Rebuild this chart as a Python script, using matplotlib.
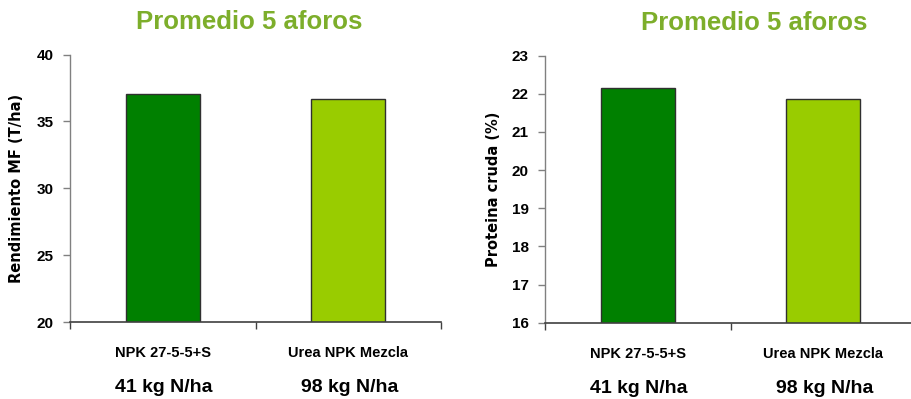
import matplotlib
matplotlib.use("Agg")
import matplotlib.pyplot as plt

# Data
treatments = ["NPK 27-5-5+S", "Urea NPK Mezcla"]
n_doses = ["41 kg N/ha", "98 kg N/ha"]
yield_mf = [37.02, 36.65]          # Rendimiento MF (T/ha)
protein = [22.16, 21.86]           # Proteina cruda (%)
bar_colors = ["#008000", "#99CC00"]
title_text = "Promedio 5 aforos"

W, H = 911, 399
fig = plt.figure(figsize=(W / 100, H / 100), dpi=100)
fig.patch.set_facecolor("white")

TITLE_COLOR = "#7DAE2B"
FONT = "Liberation Sans"


def px_axes(left, top, right, bottom):
    return fig.add_axes([left / W, 1 - bottom / H, (right - left) / W, (bottom - top) / H])


def draw_panel(ax, values, ylim, yticks, ylabel, label_x):
    x = list(range(len(values)))
    ax.bar(x, values, width=0.4, color=bar_colors, edgecolor="#303030",
           linewidth=1.0, zorder=2)
    ax.set_xlim(-0.5, len(values) - 0.5)
    ax.set_ylim(*ylim)
    ax.set_yticks(yticks)
    ax.set_yticklabels([str(t) for t in yticks], fontfamily=FONT,
                       fontweight="bold", fontsize=11)
    ax.set_xticks([-0.5, 0.5, 1.5])
    ax.set_xticklabels([])
    for s in ("top", "right"):
        ax.spines[s].set_visible(False)
    ax.spines["left"].set_color("#808080")
    ax.spines["bottom"].set_color("#404040")
    ax.spines["left"].set_linewidth(1.0)
    ax.spines["bottom"].set_linewidth(1.2)
    ax.tick_params(axis="y", direction="out", length=5, width=1.0,
                   color="#808080", pad=7)
    ax.tick_params(axis="x", direction="out", length=5, width=1.0,
                   color="#404040")
    ax.set_ylabel(ylabel, fontfamily="DejaVu Sans", fontweight="bold",
                  fontsize=10.5, va="center")
    ax.yaxis.set_label_coords(label_x, 0.5)
    for xi, (t, d) in enumerate(zip(treatments, n_doses)):
        ax.annotate(t, xy=(xi, ylim[0]), xycoords="data",
                    xytext=(0, -31), textcoords="offset pixels",
                    ha="center", va="center", fontfamily=FONT,
                    fontweight="bold", fontsize=10.5, annotation_clip=False)
        ax.annotate(d, xy=(xi, ylim[0]), xycoords="data",
                    xytext=(1, -66), textcoords="offset pixels",
                    ha="center", va="center", fontfamily=FONT,
                    fontweight="bold", fontsize=14, annotation_clip=False)


ax1 = px_axes(70, 54.5, 441, 322)
draw_panel(ax1, yield_mf, (20, 40), [20, 25, 30, 35, 40],
           "Rendimiento MF (T/ha)", (17 - 70) / 371)

ax2 = px_axes(545.3, 55.7, 916, 322.7)
draw_panel(ax2, protein, (16, 23), [16, 17, 18, 19, 20, 21, 22, 23],
           "Proteina cruda (%)", (493 - 545.3) / 370.7)

fig.text(249 / W, 1 - 22 / H, title_text, ha="center", va="center",
         fontfamily=FONT, fontweight="bold", fontsize=18.5, color=TITLE_COLOR)
fig.text(754 / W, 1 - 23 / H, title_text, ha="center", va="center",
         fontfamily=FONT, fontweight="bold", fontsize=18.5, color=TITLE_COLOR)

fig.savefig("out.png", dpi=100, facecolor="white")
